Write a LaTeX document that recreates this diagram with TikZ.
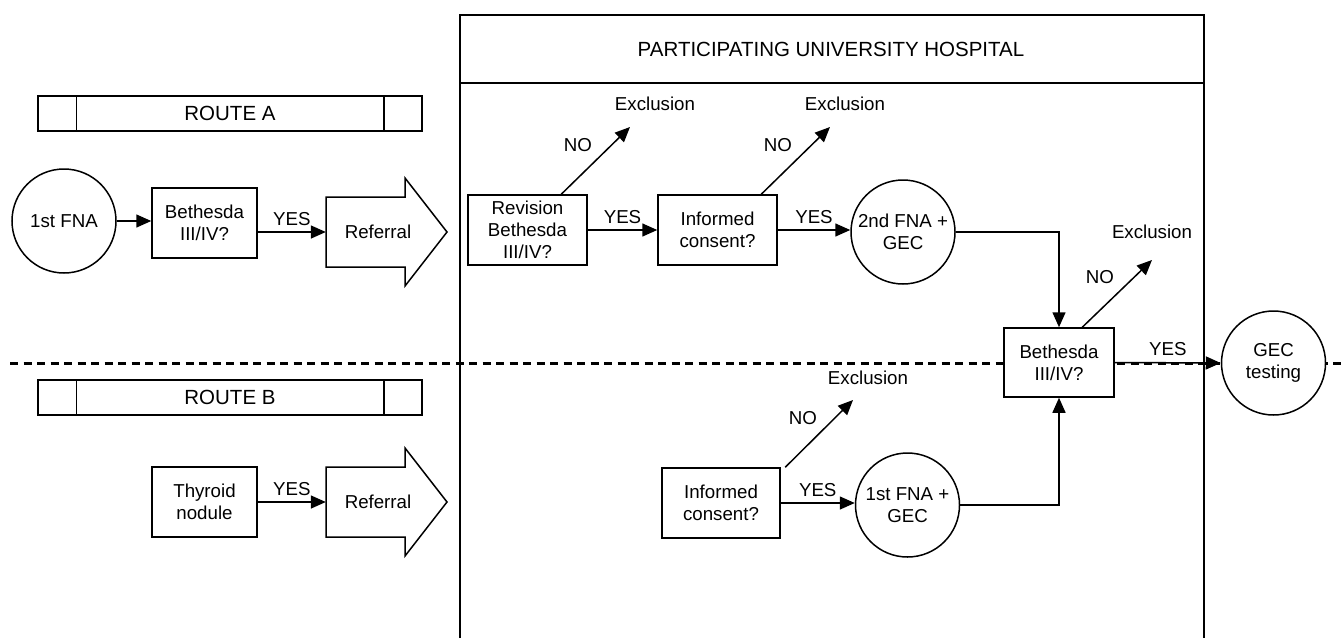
\documentclass[tikz,border=0pt]{standalone}
\usepackage{fontspec}
\setmainfont{Liberation Sans}
\usetikzlibrary{arrows.meta,calc}
\tikzset{
  base/.style={font=\fontsize{18.7}{22}\selectfont},
  bigf/.style={font=\fontsize{20.5}{24}\selectfont},
  box/.style={base,draw,line width=1.5pt,fill=white,align=center,minimum width=105pt,minimum height=70pt,inner sep=0pt},
  circ/.style={base,circle,draw,line width=1.5pt,fill=white,align=center,minimum size=104pt,inner sep=0pt},
  arr/.style={line width=1.5pt,-{Triangle[length=15pt,width=13pt]}},
  lbl/.style={base,inner sep=0pt},
  frame/.style={line width=1.5pt},
  divider/.style={line width=3pt,dash pattern=on 8pt off 5.5pt},
}
\begin{document}
\begin{tikzpicture}[x=1pt,y=-1pt]
\useasboundingbox[fill=white] (0,0) rectangle (1343,638);

% dashed separator (behind everything)
\coordinate (dl) at (10,363);
\coordinate (dr) at (1343,363);
\draw[divider] (dl) -- (dr);

% hospital frame
\draw[frame] (460,638) -- (460,15) -- (1204,15) -- (1204,638);
\draw[frame] (460,83) -- (1204,83);
\node[bigf] (hosp) at (831,49) {PARTICIPATING UNIVERSITY HOSPITAL};

% route banners
\foreach \n/\y/\t in {ra/113.5/ROUTE A, rb/397.5/ROUTE B}{
  \node[bigf,draw,line width=1.5pt,minimum width=384pt,minimum height=35pt,inner sep=0pt] (\n) at (230,\y) {\t};
  \draw[frame] ($(\n.north west)+(39,0)$) -- ($(\n.south west)+(39,0)$);
  \draw[frame] ($(\n.north east)+(-39,0)$) -- ($(\n.south east)+(-39,0)$);
}

% ---------- Route A ----------
\node[circ,minimum size=104pt] (fna1) at (64,221) {1st FNA};
\node[box] (bethA) at (204.5,223) {Bethesda\\III/IV?};
\node[minimum width=79pt,minimum height=70pt,inner sep=0pt] (refA) at (365.5,232) {};
\draw[frame,fill=white] (326,197) -- (405,197) -- (405,178) -- (447,232) -- (405,286) -- (405,267) -- (326,267) -- cycle;
\node[base] (refAt) at (378,232) {Referral};
\draw[arr] (fna1.east) -- (bethA.west |- fna1);
\draw[arr] (bethA.east |- refA) -- node[lbl,above=6pt] {YES} (refA.west);

\node[box,minimum width=119pt] (rev) at (527.5,230) {Revision\\Bethesda\\III/IV?};
\node[box,minimum width=119pt] (icA) at (717.5,230) {Informed\\consent?};
\node[circ] (fna2) at (903,232) {2nd FNA +\\GEC};
\draw[arr] (rev.east) -- node[lbl,above=6pt] {YES} (icA.west);
\draw[arr] (icA.east) -- node[lbl,above=6pt] {YES} (fna2.west |- icA);

\coordinate (exA1) at (630,127);
\coordinate (exA2) at (830,127);
\draw[arr] ($(rev.north west)+(94,0)$) -- (exA1);
\draw[arr] ($(icA.north west)+(104,0)$) -- (exA2);
\node[lbl] (noA1) at (578,145) {NO};
\node[lbl] (noA2) at (778,145) {NO};
\node[lbl] (xA1) at (655,104) {Exclusion};
\node[lbl] (xA2) at (845,104) {Exclusion};

% ---------- merge ----------
\node[box,minimum width=110pt,minimum height=69pt] (bethM) at (1059,362.5) {Bethesda\\III/IV?};
\node[circ] (gec) at (1273.5,363) {GEC\\testing};
\draw[arr] (fna2.east) -| (bethM.north);
\draw[arr] (bethM.east) -- node[lbl,above=6pt] {YES} (gec.west);
\coordinate (exM) at (1152,260);
\draw[arr] ($(bethM.north west)+(79,0)$) -- (exM);
\node[lbl] (noM) at (1100,277) {NO};
\node[lbl] (xM) at (1152,232) {Exclusion};

% ---------- Route B ----------
\node[box] (thy) at (204.5,502) {Thyroid\\nodule};
\node[minimum width=79pt,minimum height=70pt,inner sep=0pt] (refB) at (365.5,502) {};
\draw[frame,fill=white] (326,467) -- (405,467) -- (405,448) -- (447,502) -- (405,556) -- (405,537) -- (326,537) -- cycle;
\node[base] (refBt) at (378,502) {Referral};
\draw[arr] (thy.east) -- node[lbl,above=6pt] {YES} (refB.west);

\node[box,minimum width=118pt] (icB) at (721,503) {Informed\\consent?};
\node[circ] (fna1g) at (907.5,505) {1st FNA +\\GEC};
\draw[arr] (icB.east) -- node[lbl,above=6pt] {YES} (fna1g.west |- icB);
\coordinate (exB) at (853,400);
\draw[arr] ($(icB.north west)+(124,0)$) -- (exB);
\node[lbl] (noB) at (803,418) {NO};
\node[lbl] (xB) at (868,378) {Exclusion};
\draw[arr] (fna1g.east) -| (bethM.south);
\end{tikzpicture}
\end{document}
